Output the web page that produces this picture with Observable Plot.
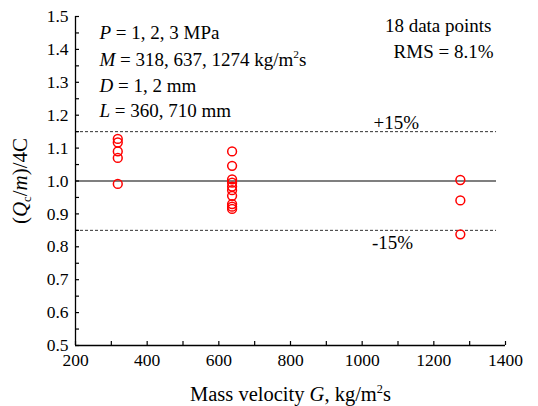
<!DOCTYPE html>
<html>
<head>
<meta charset="utf-8">
<script src="https://cdn.jsdelivr.net/npm/d3@7"></script>
<script src="https://cdn.jsdelivr.net/npm/@observablehq/plot@0.6"></script>
<style>
  html, body { margin: 0; padding: 0; background: #fff; }
  #chart svg { display: block; }
</style>
</head>
<body>
<div id="chart"></div>
<script>
// ---- data ----
const massVelocity318 = [1.128, 1.117, 1.090, 1.070, 0.991];
const massVelocity637 = [1.090, 1.046, 1.005, 0.995, 0.983, 0.972, 0.955, 0.930, 0.922, 0.915];
const massVelocity1274 = [1.003, 0.941, 0.838];
const groupG = [318, 637, 1274];
const bandValues = [0.85, 1.15];
const refValue = 1.0;
const refLineStart = 200;
const refLineEnd = 1375;
const xMajorTicks = [200, 400, 600, 800, 1000, 1200, 1400];
const xMinorTicks = [200, 300, 400, 500, 600, 700, 800, 900, 1000, 1100, 1200, 1300, 1400];
const yMajorTicks = [0.5, 0.6, 0.7, 0.8, 0.9, 1.0, 1.1, 1.2, 1.3, 1.4, 1.5];
const yMinorTicks = d3.range(0, 21).map(i => +(0.5 + i * 0.05).toFixed(2));
const bandLabels = [
  {label: "+15%", G: 1095, v: 1.178},
  {label: "-15%", G: 1085, v: 0.813}
];

// ---- build table ----
const points = [
  ...massVelocity318.map(v => ({G: groupG[0], v})),
  ...massVelocity637.map(v => ({G: groupG[1], v})),
  ...massVelocity1274.map(v => ({G: groupG[2], v}))
];

const FONT = "'Liberation Serif', 'Times New Roman', serif";
const ANN = 19;

const plot = Plot.plot({
  width: 538,
  height: 406,
  marginTop: 16,
  marginRight: 33,
  marginBottom: 61,
  marginLeft: 75,
  style: {fontFamily: FONT, fontSize: "17.5px", color: "#000", background: "#fff", overflow: "visible"},
  x: {domain: [200, 1400]},
  y: {domain: [0.5, 1.5]},
  marks: [
    // reference lines
    Plot.ruleY(bandValues, {x1: refLineStart, x2: refLineEnd, stroke: "#333", strokeWidth: 1, strokeDasharray: "3,2"}),
    Plot.ruleY([refValue], {x1: refLineStart, x2: refLineEnd, stroke: "#555", strokeWidth: 1.4}),
    // axis lines
    Plot.ruleX([200], {stroke: "#000", strokeWidth: 1.3}),
    Plot.ruleY([0.5], {stroke: "#000", strokeWidth: 1.3}),
    // axes
    Plot.axisX({ticks: xMajorTicks, tickSize: 0, tickPadding: 8, label: null, tickFormat: d3.format("d"), fontSize: 17.5}),
    Plot.axisX({ticks: xMinorTicks, tickSize: -4, fill: "none", label: null, strokeWidth: 1.2}),
    Plot.axisY({ticks: yMajorTicks, tickSize: 0, tickPadding: 7, label: null, tickFormat: d3.format(".1f"), fontSize: 17.5}),
    Plot.axisY({ticks: yMinorTicks, tickSize: -4, fill: "none", label: null, strokeWidth: 1.2}),
    // data
    Plot.dot(points, {x: "G", y: "v", r: 4.4, stroke: "#ff0000", strokeWidth: 1.5, fill: "none"}),
    // band labels
    Plot.text(bandLabels, {x: "G", y: "v", text: "label", fontSize: ANN, textAnchor: "middle", lineAnchor: "middle"}),
    // annotations top-left
    Plot.text(["P = 1, 2, 3 MPa"], {frameAnchor: "top-left", dx: 24, dy: 16.9, textAnchor: "start", lineAnchor: "middle", fontSize: ANN}),
    Plot.text(["M = 318, 637, 1274 kg/m2s"], {frameAnchor: "top-left", dx: 24, dy: 43.9, textAnchor: "start", lineAnchor: "middle", fontSize: ANN}),
    Plot.text(["D = 1, 2 mm"], {frameAnchor: "top-left", dx: 24, dy: 69.9, textAnchor: "start", lineAnchor: "middle", fontSize: ANN}),
    Plot.text(["L = 360, 710 mm"], {frameAnchor: "top-left", dx: 24, dy: 94.9, textAnchor: "start", lineAnchor: "middle", fontSize: ANN}),
    // annotations top-right
    Plot.text(["18 data points"], {frameAnchor: "top-right", dx: -14, dy: 9.9, textAnchor: "end", lineAnchor: "middle", fontSize: ANN}),
    Plot.text(["RMS = 8.1%"], {frameAnchor: "top-right", dx: -12, dy: 35.9, textAnchor: "end", lineAnchor: "middle", fontSize: ANN}),
    // axis titles
    Plot.text(["Mass velocity G, kg/m2s"], {frameAnchor: "bottom", dy: 49, textAnchor: "middle", lineAnchor: "middle", fontSize: 20.5}),
    Plot.text(["(Qc/m)/4C"], {frameAnchor: "left", dx: -55, rotate: -90, textAnchor: "middle", lineAnchor: "middle", fontSize: 21})
  ]
});

document.getElementById("chart").appendChild(plot);

// ---- rich text (italic / sub / superscript) ----
function richify(plain, parts) {
  d3.select(plot).selectAll("text").each(function() {
    if (this.textContent !== plain) return;
    const t = d3.select(this);
    t.text(null);
    let shift = 0;
    for (const p of parts) {
      const s = t.append("tspan").text(p.t);
      if (p.i) s.attr("font-style", "italic");
      let target = 0;
      if (p.sub) target = 4;
      if (p.sup) target = -8;
      if (target !== shift) { s.attr("dy", target - shift); shift = target; }
      if (p.sub || p.sup) s.attr("font-size", "0.6em");
    }
  });
}
richify("P = 1, 2, 3 MPa", [{t: "P", i: true}, {t: " = 1, 2, 3 MPa"}]);
richify("M = 318, 637, 1274 kg/m2s", [{t: "M", i: true}, {t: " = 318, 637, 1274 kg/m"}, {t: "2", sup: true}, {t: "s"}]);
richify("D = 1, 2 mm", [{t: "D", i: true}, {t: " = 1, 2 mm"}]);
richify("L = 360, 710 mm", [{t: "L", i: true}, {t: " = 360, 710 mm"}]);
richify("Mass velocity G, kg/m2s", [{t: "Mass velocity "}, {t: "G", i: true}, {t: ", kg/m"}, {t: "2", sup: true}, {t: "s"}]);
richify("(Qc/m)/4C", [{t: "("}, {t: "Q", i: true}, {t: "c", sub: true}, {t: "/"}, {t: "m", i: true}, {t: ")/4C"}]);
</script>
</body>
</html>
